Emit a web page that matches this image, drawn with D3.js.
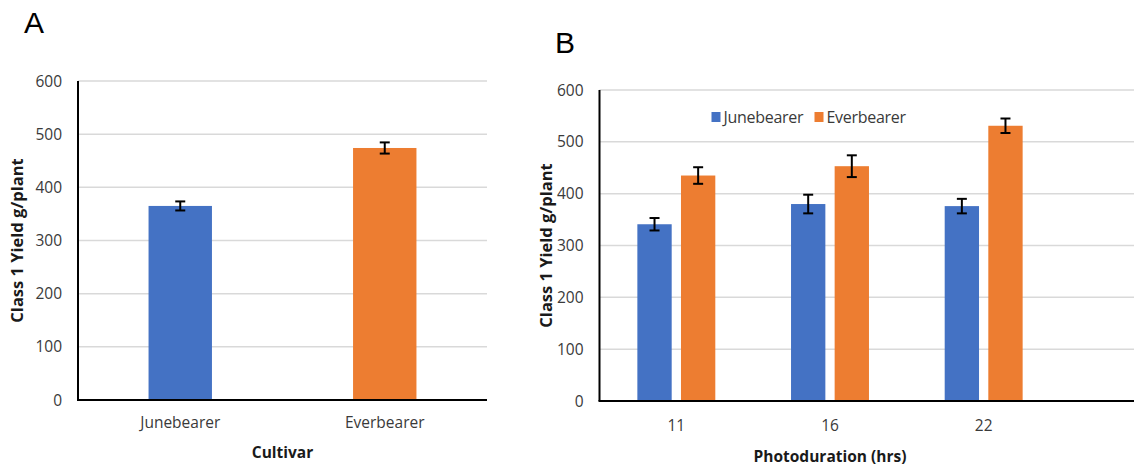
<!DOCTYPE html>
<html>
<head>
<meta charset="utf-8">
<script src="https://cdn.jsdelivr.net/npm/d3@7"></script>
<style>
  body { margin: 0; background: #fff; }
  .tick-label { font-family: 'Open Sans', sans-serif; font-size: 15.5px; fill: #3a3a3a; }
  .legend-label { font-family: 'Open Sans', sans-serif; font-size: 16px; fill: #3a3a3a; letter-spacing: -0.3px; }
  .axis-title { font-family: 'Open Sans', sans-serif; font-size: 15.5px; font-weight: bold; fill: #1a1a1a; }
  .y-title { font-size: 16.5px; }
  .panel-label { font-family: 'Liberation Sans', Arial, sans-serif; font-size: 30px; fill: #000; }
</style>
</head>
<body>
<div id="chart"></div>
<script>
// panel A data
const cultivars = ['Junebearer', 'Everbearer'];
const cultivarMeans = [365, 474];
const cultivarErrors = [8.5, 10.5];

// panel B data
const hours = ['11', '16', '22'];
const junebearerMeans = [341, 380, 376];
const junebearerErrors = [12, 18, 14];
const everbearerMeans = [435, 453, 531];
const everbearerErrors = [16, 21, 14];

const yTicks = [0, 100, 200, 300, 400, 500, 600];
const colors = { Junebearer: '#4472C4', Everbearer: '#ED7D31' };

const width = 1134;
const height = 468;

const svg = d3
  .select('#chart')
  .append('svg')
  .attr('width', width)
  .attr('height', height);

const drawGrid = (g, y, w) => {
  g.selectAll('.grid')
    .data(yTicks.filter((d) => d > 0))
    .enter()
    .append('line')
    .attr('class', 'grid')
    .attr('x1', 0)
    .attr('x2', w)
    .attr('y1', (d) => y(d))
    .attr('y2', (d) => y(d))
    .attr('stroke', '#d9d9d9')
    .attr('stroke-width', 1.5);

  g.selectAll('.y-label')
    .data(yTicks)
    .enter()
    .append('text')
    .attr('class', 'tick-label')
    .attr('x', -16)
    .attr('y', (d) => y(d))
    .attr('dy', '0.36em')
    .attr('text-anchor', 'end')
    .text((d) => d);
};

const drawAxes = (g, w, h) => {
  g.append('line')
    .attr('x1', 0).attr('x2', 0)
    .attr('y1', 0).attr('y2', h)
    .attr('stroke', '#000').attr('stroke-width', 2);
  g.append('line')
    .attr('x1', -1).attr('x2', w)
    .attr('y1', h).attr('y2', h)
    .attr('stroke', '#000').attr('stroke-width', 2);
};

const drawErrors = (g, data) => {
  const cap = 5;
  const eg = g.selectAll('.err').data(data).enter().append('g').attr('class', 'err')
    .attr('stroke', '#000').attr('stroke-width', 2);
  eg.append('line')
    .attr('x1', (d) => d.cx).attr('x2', (d) => d.cx)
    .attr('y1', (d) => d.top).attr('y2', (d) => d.bottom);
  eg.append('line')
    .attr('x1', (d) => d.cx - cap).attr('x2', (d) => d.cx + cap)
    .attr('y1', (d) => d.top).attr('y2', (d) => d.top);
  eg.append('line')
    .attr('x1', (d) => d.cx - cap).attr('x2', (d) => d.cx + cap)
    .attr('y1', (d) => d.bottom).attr('y2', (d) => d.bottom);
};

// ---------- Panel A ----------
const marginA = { top: 81, left: 78 };
const wA = 409;
const hA = 319;
const gA = svg.append('g').attr('transform', `translate(${marginA.left}, ${marginA.top})`);

const xA = d3.scaleBand().domain(cultivars).range([0, wA]);
const yA = d3.scaleLinear().domain([0, 600]).range([hA, 0]);
const barWA = xA.bandwidth() * 0.31;

drawGrid(gA, yA, wA);

const dataA = cultivars.map((c, i) => ({
  name: c,
  value: cultivarMeans[i],
  err: cultivarErrors[i]
}));

gA.selectAll('.bar')
  .data(dataA)
  .enter()
  .append('rect')
  .attr('class', 'bar')
  .attr('x', (d) => xA(d.name) + (xA.bandwidth() - barWA) / 2)
  .attr('y', (d) => yA(d.value))
  .attr('width', barWA)
  .attr('height', (d) => hA - yA(d.value))
  .attr('fill', (d) => colors[d.name]);

drawErrors(gA, dataA.map((d) => ({
  cx: xA(d.name) + xA.bandwidth() / 2,
  top: yA(d.value + d.err),
  bottom: yA(d.value - d.err)
})));

drawAxes(gA, wA, hA);

gA.selectAll('.x-label')
  .data(cultivars)
  .enter()
  .append('text')
  .attr('class', 'tick-label')
  .attr('x', (d) => xA(d) + xA.bandwidth() / 2)
  .attr('y', hA + 28)
  .attr('text-anchor', 'middle')
  .text((d) => d);

gA.append('text')
  .attr('class', 'axis-title')
  .attr('x', wA / 2)
  .attr('y', hA + 58)
  .attr('text-anchor', 'middle')
  .text('Cultivar');

gA.append('text')
  .attr('class', 'axis-title y-title')
  .attr('transform', `translate(-55, ${hA / 2}) rotate(-90)`)
  .attr('text-anchor', 'middle')
  .text('Class 1 Yield g/plant');

svg.append('text').attr('class', 'panel-label').attr('x', 24).attr('y', 33).text('A');

// ---------- Panel B ----------
const marginB = { top: 90, left: 599.5 };
const wB = 461;
const hB = 311;
const gB = svg.append('g').attr('transform', `translate(${marginB.left}, ${marginB.top})`);

const series = ['Junebearer', 'Everbearer'];
const x0 = d3.scaleBand().domain(hours).range([0, wB]);
const x1 = d3.scaleBand().domain(series).range([0, x0.bandwidth()])
  .paddingInner(0.213).paddingOuter(0.868);
const yB = d3.scaleLinear().domain([0, 600]).range([hB, 0]);

drawGrid(gB, yB, width - marginB.left);

const dataB = [];
hours.forEach((h, i) => {
  dataB.push({ hour: h, name: 'Junebearer', value: junebearerMeans[i], err: junebearerErrors[i] });
  dataB.push({ hour: h, name: 'Everbearer', value: everbearerMeans[i], err: everbearerErrors[i] });
});

gB.selectAll('.bar')
  .data(dataB)
  .enter()
  .append('rect')
  .attr('class', 'bar')
  .attr('x', (d) => x0(d.hour) + x1(d.name))
  .attr('y', (d) => yB(d.value))
  .attr('width', x1.bandwidth())
  .attr('height', (d) => hB - yB(d.value))
  .attr('fill', (d) => colors[d.name]);

drawErrors(gB, dataB.map((d) => ({
  cx: x0(d.hour) + x1(d.name) + x1.bandwidth() / 2,
  top: yB(d.value + d.err),
  bottom: yB(d.value - d.err)
})));

drawAxes(gB, width - marginB.left, hB);

gB.selectAll('.x-label')
  .data(hours)
  .enter()
  .append('text')
  .attr('class', 'tick-label')
  .attr('x', (d) => x0(d) + x0.bandwidth() / 2)
  .attr('y', hB + 30)
  .attr('text-anchor', 'middle')
  .text((d) => d);

gB.append('text')
  .attr('class', 'axis-title')
  .attr('x', x0.bandwidth() * 1.5)
  .attr('y', hB + 61)
  .attr('text-anchor', 'middle')
  .text('Photoduration (hrs)');

gB.append('text')
  .attr('class', 'axis-title y-title')
  .attr('transform', `translate(-48, ${hB / 2}) rotate(-90)`)
  .attr('text-anchor', 'middle')
  .text('Class 1 Yield g/plant');

// legend
const legend = gB.append('g').attr('transform', 'translate(112, 22)');
const legendX = d3.scaleOrdinal().domain(series).range([0, 103]);
const li = legend.selectAll('.legend-item')
  .data(series)
  .enter()
  .append('g')
  .attr('class', 'legend-item')
  .attr('transform', (d) => `translate(${legendX(d)}, 0)`);
li.append('rect')
  .attr('width', 9).attr('height', 10)
  .attr('fill', (d) => colors[d]);
li.append('text')
  .attr('class', 'legend-label')
  .attr('x', 12)
  .attr('y', 5)
  .attr('dy', '0.36em')
  .text((d) => d);

svg.append('text').attr('class', 'panel-label').attr('x', 555).attr('y', 53).text('B');
</script>
</body>
</html>
